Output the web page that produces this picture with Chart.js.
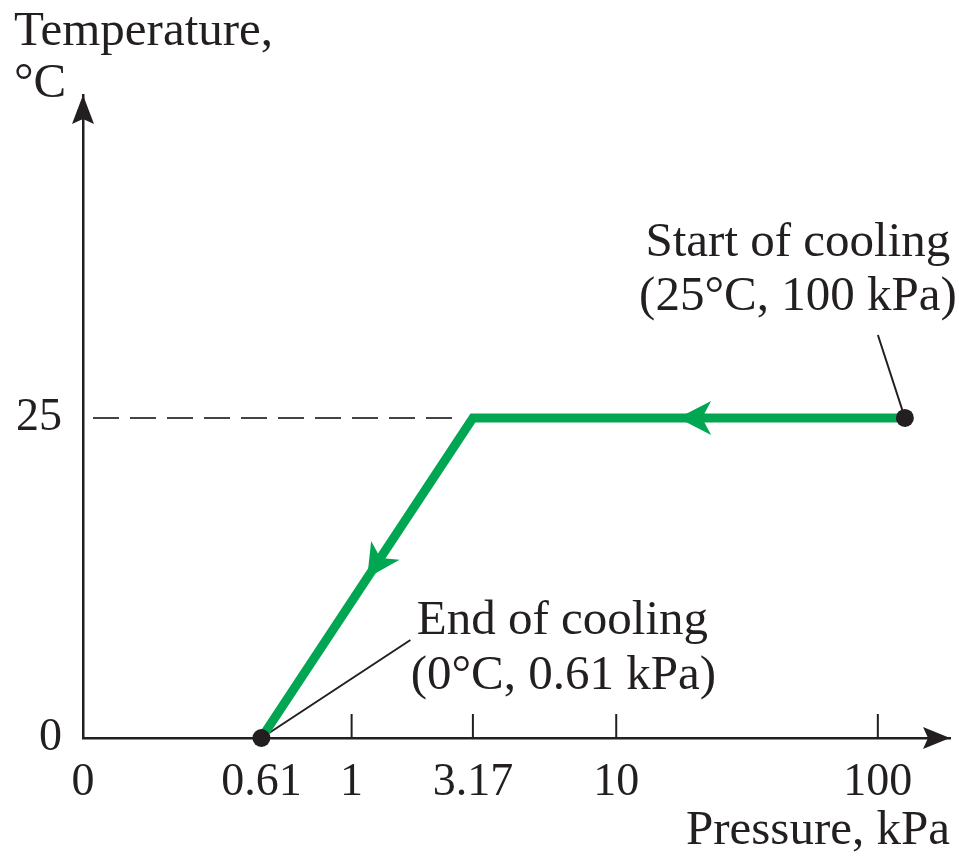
<!DOCTYPE html>
<html>
<head>
<meta charset="utf-8">
<script src="https://cdn.jsdelivr.net/npm/chart.js"></script>
<style>
  html, body { margin: 0; padding: 0; background: #fff; }
  canvas { display: block; }
</style>
</head>
<body>
<canvas id="coolingChart" width="959" height="856"></canvas>
<script>
// --- data ---
// x axis of the drawing is schematic (not to scale), so each tick has its own axis position
const tickLabels = ['0', '0.61', '1', '3.17', '10', '100'];
const tickPos = [0, 1.78, 2.68, 3.89, 5.32, 7.93];
const tickMarked = [false, false, true, true, true, true];
const tempTicks = [0, 25];

// cooling path: start (25°C, 100 kPa) -> 3.17 kPa -> end (0°C, 0.61 kPa)
const pathPos = [8.20, 3.89, 1.78];
const pathTemp = [25, 25, 0];

const ink = '#231f20';
const green = '#00a651';
const serif = '"Liberation Serif", "Times New Roman", serif';

function arrowHead(ctx, tx, ty, angle, len, half, notch) {
    // tip at (tx,ty), pointing along angle
    ctx.save();
    ctx.translate(tx, ty);
    ctx.rotate(angle);
    ctx.beginPath();
    ctx.moveTo(0, 0);
    ctx.lineTo(-len, -half);
    ctx.lineTo(-len + notch, 0);
    ctx.lineTo(-len, half);
    ctx.closePath();
    ctx.fill();
    ctx.restore();
}

const sketchPlugin = {
    id: 'sketch',
    beforeDatasetsDraw(chart) {
        const { ctx, chartArea, scales: { x, y } } = chart;
        ctx.save();

        // dashed guide at 25 °C
        const y25 = y.getPixelForValue(25);
        ctx.strokeStyle = '#444';
        ctx.lineWidth = 2;
        ctx.setLineDash([26, 11]);
        ctx.beginPath();
        ctx.moveTo(chartArea.left + 10, y25);
        ctx.lineTo(x.getPixelForValue(pathPos[1]) - 20, y25);
        ctx.stroke();
        ctx.setLineDash([]);

        // tick marks point up into the plot
        ctx.strokeStyle = ink;
        ctx.lineWidth = 2;
        tickPos.forEach((p, i) => {
            if (!tickMarked[i]) return;
            const px = x.getPixelForValue(p);
            ctx.beginPath();
            ctx.moveTo(px, chartArea.bottom);
            ctx.lineTo(px, chartArea.bottom - 24);
            ctx.stroke();
        });

        // callout lines
        const sx = x.getPixelForValue(pathPos[0]), sy = y.getPixelForValue(pathTemp[0]);
        const ex = x.getPixelForValue(pathPos[2]), ey = y.getPixelForValue(pathTemp[2]);
        ctx.lineWidth = 2;
        ctx.beginPath();
        ctx.moveTo(sx, sy);
        ctx.lineTo(sx - 27, sy - 83);
        ctx.moveTo(ex, ey);
        ctx.lineTo(ex + 149, ey - 98);
        ctx.stroke();
        ctx.restore();
    },
    afterDatasetsDraw(chart) {
        const { ctx, chartArea, scales: { x, y } } = chart;
        ctx.save();

        // direction arrows on the cooling path
        ctx.fillStyle = green;
        for (let i = 0; i < pathPos.length - 1; i++) {
            const x0 = x.getPixelForValue(pathPos[i]), y0 = y.getPixelForValue(pathTemp[i]);
            const x1 = x.getPixelForValue(pathPos[i + 1]), y1 = y.getPixelForValue(pathTemp[i + 1]);
            const t = i === 0 ? 0.525 : 0.5;
            arrowHead(ctx, x0 + (x1 - x0) * t, y0 + (y1 - y0) * t, Math.atan2(y1 - y0, x1 - x0), 33, 17, 9);
        }

        // axis arrowheads
        ctx.fillStyle = ink;
        arrowHead(ctx, chartArea.left, chartArea.top, -Math.PI / 2, 29, 11, 5);
        arrowHead(ctx, chartArea.right, chartArea.bottom, 0, 27, 11, 5);

        // text
        ctx.font = '49px ' + serif;
        ctx.textBaseline = 'alphabetic';
        ctx.textAlign = 'left';
        ctx.fillText('Temperature,', 14, 45);
        ctx.fillText('°C', 14, 97);

        const sx = x.getPixelForValue(pathPos[0]), sy = y.getPixelForValue(pathTemp[0]);
        const ex = x.getPixelForValue(pathPos[2]), ey = y.getPixelForValue(pathTemp[2]);
        ctx.textAlign = 'center';
        ctx.fillText('Start of cooling', sx - 107, sy - 162);
        ctx.fillText('(25°C, 100 kPa)', sx - 107, sy - 108);
        ctx.fillText('End of cooling', ex + 301, ey - 104);
        ctx.fillText('(0°C, 0.61 kPa)', ex + 302, ey - 49);
        ctx.restore();
    }
};

new Chart(document.getElementById('coolingChart'), {
    type: 'scatter',
    data: {
        datasets: [
            {
                label: 'state points',
                data: [0, 2].map(i => ({ x: pathPos[i], y: pathTemp[i] })),
                pointRadius: 9,
                pointBackgroundColor: ink,
                pointBorderWidth: 0,
                showLine: false,
                clip: false,
                order: 0
            },
            {
                label: 'cooling path',
                data: pathPos.map((p, i) => ({ x: p, y: pathTemp[i] })),
                showLine: true,
                borderColor: green,
                borderWidth: 9,
                borderJoinStyle: 'miter',
                pointRadius: 0,
                tension: 0,
                clip: false,
                order: 1
            }
        ]
    },
    options: {
        responsive: false,
        animation: false,
        layout: { padding: { top: 95, right: 0, left: 16, bottom: 0 } },
        plugins: { legend: { display: false }, tooltip: { enabled: false } },
        scales: {
            x: {
                type: 'linear',
                min: 0,
                max: 8.65,
                grid: { display: false, drawTicks: false },
                border: { display: true, color: ink, width: 2.5 },
                afterBuildTicks: (axis) => { axis.ticks = tickPos.map(v => ({ value: v })); },
                afterFit: (axis) => { axis.height = 118; },
                ticks: {
                    autoSkip: false,
                    maxRotation: 0,
                    padding: 17,
                    color: ink,
                    font: { family: serif, size: 46 },
                    callback: (v) => { const i = tickPos.indexOf(v); return i >= 0 ? tickLabels[i] : ''; }
                },
                title: {
                    display: true,
                    text: 'Pressure, kPa',
                    align: 'end',
                    color: ink,
                    font: { family: serif, size: 49, lineHeight: 1.0 },
                    padding: { top: 0, bottom: 0 }
                }
            },
            y: {
                type: 'linear',
                min: 0,
                max: 50.23,
                grid: { display: false, drawTicks: false },
                border: { display: true, color: ink, width: 2.5 },
                afterBuildTicks: (axis) => { axis.ticks = tempTicks.map(v => ({ value: v })); },
                afterFit: (axis) => { axis.width = 67; },
                ticks: {
                    padding: 21,
                    color: ink,
                    font: { family: serif, size: 46 }
                }
            }
        }
    },
    plugins: [sketchPlugin]
});
</script>
</body>
</html>
